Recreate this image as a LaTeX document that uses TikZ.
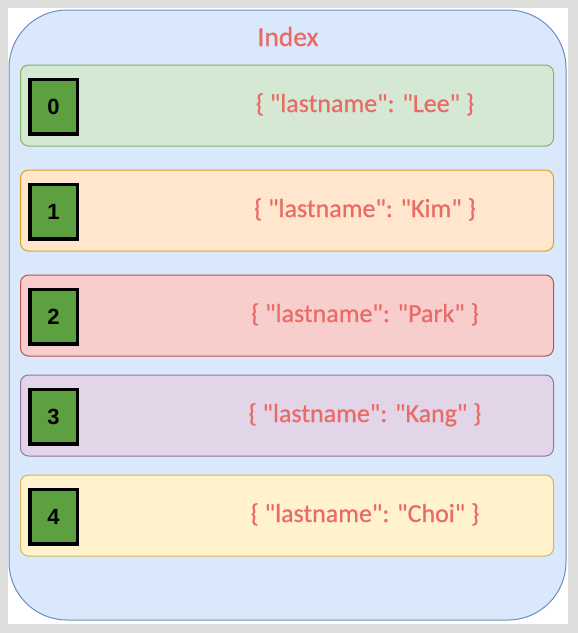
\documentclass[tikz,border=0pt]{standalone}
\usepackage{fontspec}
\setmainfont{Carlito}[Ligatures=TeXOff]
\newfontfamily\redfont{Carlito}[Ligatures=TeXOff, FakeBold=0.6]
\newfontfamily\digitfont{Liberation Sans}
\definecolor{bggray}{HTML}{DEDEDE}
\definecolor{bluefill}{HTML}{DAE8FC}
\definecolor{bluedraw}{HTML}{6C8EBF}
\definecolor{redtext}{HTML}{EA6B66}
\definecolor{idxgreen}{HTML}{5DA03F}
\definecolor{gfill}{HTML}{D5E8D4}\definecolor{gdraw}{HTML}{82B366}
\definecolor{ofill}{HTML}{FFE6CC}\definecolor{odraw}{HTML}{D7A22A}
\definecolor{rfill}{HTML}{F8CECC}\definecolor{rdraw}{HTML}{B85450}
\definecolor{pfill}{HTML}{E1D5E7}\definecolor{pdraw}{HTML}{9673A6}
\definecolor{yfill}{HTML}{FFF2CC}\definecolor{ydraw}{HTML}{D6B656}
\begin{document}
\begin{tikzpicture}[x=1pt,y=-1pt,
  outerbox/.style={draw=bluedraw, fill=bluefill, line width=1pt, rounded corners=58pt,
    minimum width=557pt, minimum height=610pt, inner sep=0pt, anchor=north west},
  rowbox/.style={line width=1pt, rounded corners=8pt, minimum width=533pt,
    minimum height=81pt, inner sep=0pt, anchor=north west},
  idxbox/.style={draw=black, fill=idxgreen, line width=3.5pt, minimum width=47.5pt,
    minimum height=54.5pt, inner sep=0pt, font=\digitfont\bfseries\fontsize{22}{24}\selectfont},
  jtext/.style={text=redtext, anchor=base, inner sep=0pt, font=\redfont\fontsize{26}{30}\selectfont},
  titletext/.style={text=redtext, anchor=base, inner sep=0pt, font=\redfont\fontsize{27.5}{30}\selectfont}]
\fill[bggray] (0,0) rectangle (578,633);
\useasboundingbox (0,0) rectangle (578,633);
\fill[white] (8,8) rectangle (568,624);
\node[outerbox] (outer) at (8.5,9.5) {};
\node[titletext] (title) at ([xshift=0.5pt, yshift=-36.5pt]outer.north) {Index};
\foreach \i/\top/\f/\d/\txt in {0/64/gfill/gdraw/Lee, 1/169/ofill/odraw/Kim, 2/274/rfill/rdraw/Park, 3/374/pfill/pdraw/Kang, 4/474/yfill/ydraw/Choi}{
  \node[rowbox, fill=\f, draw=\d] (r\i) at (20,\top.5) {};
  \node[idxbox] (i\i) at ([xshift=33.5pt, yshift=-1pt]r\i.west) {\i};
  \node[jtext] (t\i) at ([xshift=78pt, yshift=-6.5pt]r\i.center) {\{ "lastname": "\txt" \}};
}
\end{tikzpicture}
\end{document}
